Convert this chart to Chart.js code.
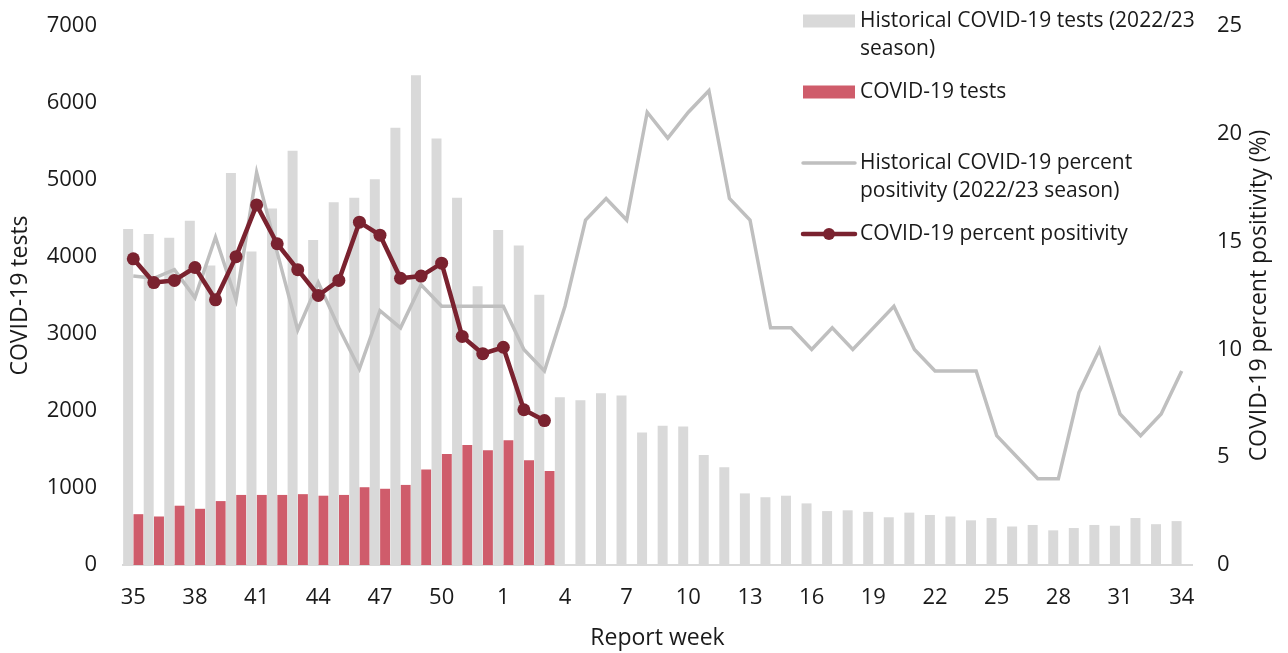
<!DOCTYPE html>
<html>
<head>
<meta charset="utf-8">
<script src="https://cdn.jsdelivr.net/npm/chart.js@4.4.1/dist/chart.umd.min.js"></script>
<style>
html,body{margin:0;padding:0;background:#fff;}
#wrap{width:1288px;height:653px;position:relative;}
</style>
</head>
<body>
<div id="wrap"><canvas id="c" width="1288" height="653"></canvas></div>
<script>
const weeks = ['35','36','37','38','39','40','41','42','43','44','45','46','47','48','49','50','51','52',
  '1','2','3','4','5','6','7','8','9','10','11','12','13','14','15','16','17','18','19','20',
  '21','22','23','24','25','26','27','28','29','30','31','32','33','34'];
const histTests = [4365,4300,4250,4470,3890,5090,4070,4630,5380,4220,4710,4770,5010,5680,6360,5540,4770,3620,
  4350,4150,3510,2180,2140,2230,2200,1720,1810,1800,1430,1270,930,880,900,800,700,710,690,620,
  680,650,630,580,610,500,520,450,480,520,510,610,530,570];
const curTests = [660,630,770,730,830,910,910,910,920,900,910,1010,990,1040,1240,1440,1560,1490,
  1620,1360,1220];
const histPos = [13.4,13.3,13.7,12.4,15.2,12.3,18.2,14.5,10.9,13.1,11.0,9.1,11.8,11.0,13.0,12.0,12.0,12.0,
  12.0,10.0,9.0,12.0,16.0,17.0,16.0,21.0,19.8,21.0,22.0,17.0,16.0,11.0,11.0,10.0,11.0,10.0,11.0,12.0,
  10.0,9.0,9.0,9.0,6.0,5.0,4.0,4.0,8.0,10.0,7.0,6.0,7.0,9.0];
const curPos = [14.2,13.1,13.2,13.8,12.3,14.3,16.7,14.9,13.7,12.5,13.2,15.9,15.3,13.3,13.4,14.0,10.6,9.8,
  10.1,7.2,6.7];
const leftTicks = [0,1000,2000,3000,4000,5000,6000,7000];
const rightTicks = [0,5,10,15,20,25];
const rightTitle = 'COVID-19 percent positivity (%)';

const FONT = "'Open Sans', sans-serif";
const TXT = '#1a1a1a';
const GREY_BAR = '#d9d9d9';
const RED_BAR = '#cf5c6b';
const GREY_LINE = '#bfbfbf';
const DARK_RED = '#7a222f';

const legendItems = [
  {type:'box', color:GREY_BAR, lines:['Historical COVID-19 tests (2022/23','season)'], y:21},
  {type:'box', color:RED_BAR, lines:['COVID-19 tests'], y:92},
  {type:'line', color:GREY_LINE, width:3.5, lines:['Historical COVID-19 percent','positivity (2022/23 season)'], y:163},
  {type:'point', color:DARK_RED, width:4.5, lines:['COVID-19 percent positivity'], y:234}
];

const legendPlugin = {
  id:'customLegend',
  afterDraw(chart){
    const ctx = chart.ctx;
    ctx.save();
    ctx.font = "21px " + FONT;
    ctx.textBaseline = 'middle';
    ctx.textAlign = 'left';
    const x0 = 803, x1 = 855, tx = 860, lh = 28.5;
    legendItems.forEach(it => {
      if (it.type === 'box') {
        ctx.fillStyle = it.color;
        ctx.fillRect(x0, it.y - 6.5, x1 - x0, 13);
      } else {
        ctx.strokeStyle = it.color;
        ctx.lineWidth = it.width;
        ctx.lineCap = 'round';
        ctx.beginPath(); ctx.moveTo(x0, it.y); ctx.lineTo(x1, it.y); ctx.stroke();
        if (it.type === 'point') {
          ctx.fillStyle = it.color;
          ctx.beginPath(); ctx.arc((x0 + x1) / 2, it.y, 6, 0, Math.PI * 2); ctx.fill();
        }
      }
      ctx.fillStyle = TXT;
      it.lines.forEach((t, i) => ctx.fillText(t, tx, it.y + i * lh));
    });
    // right axis title, reading bottom to top
    const a = chart.chartArea;
    ctx.translate(1259, (a.top + a.bottom) / 2);
    ctx.rotate(-Math.PI / 2);
    ctx.textAlign = 'center';
    ctx.font = "23px " + FONT;
    ctx.fillText(rightTitle, 0, 0);
    ctx.restore();
  }
};

new Chart(document.getElementById('c'), {
  type: 'bar',
  data: {
    labels: weeks,
    datasets: [
      {type:'line', label:'COVID-19 percent positivity', data:curPos, yAxisID:'y2', order:0,
        borderColor:DARK_RED, backgroundColor:DARK_RED, borderWidth:4.5, pointRadius:6.5,
        pointBackgroundColor:DARK_RED, pointBorderWidth:0, tension:0, spanGaps:false},
      {type:'line', label:'Historical COVID-19 percent positivity (2022/23 season)', data:histPos, yAxisID:'y2', order:1,
        borderColor:GREY_LINE, borderWidth:3.5, pointRadius:0, tension:0},
      {type:'bar', label:'Historical COVID-19 tests (2022/23 season)', data:histTests, yAxisID:'y', order:2,
        backgroundColor:GREY_BAR, categoryPercentage:1.0, barPercentage:0.97},
      {type:'bar', label:'COVID-19 tests', data:curTests, yAxisID:'y', order:3,
        backgroundColor:RED_BAR, categoryPercentage:1.0, barPercentage:0.97}
    ]
  },
  options: {
    responsive:false,
    animation:false,
    layout:{padding:{top:26,left:0,right:0,bottom:0}},
    plugins:{legend:{display:false}, tooltip:{enabled:false}},
    scales:{
      x:{
        grid:{display:false, drawTicks:false},
        border:{display:true, color:'#d9d9d9', width:2},
        ticks:{autoSkip:false, maxRotation:0, padding:20, color:TXT, font:{family:FONT, size:22},
          callback:function(v, i){ return i % 3 === 0 ? weeks[i] : ''; }},
        title:{display:true, text:'Report week', color:TXT, font:{family:FONT, size:23}, padding:{top:0,bottom:1}},
        afterFit(s){ s.height = 88; s.paddingLeft = 0; s.paddingRight = 0; }
      },
      y:{
        position:'left', min:0, max:leftTicks[leftTicks.length-1],
        afterBuildTicks(s){ s.ticks = leftTicks.map(v => ({value:v})); },
        grid:{display:false, drawTicks:false},
        border:{display:false},
        ticks:{padding:26, color:TXT, font:{family:FONT, size:22}, callback:(v) => String(v)},
        title:{display:true, text:'COVID-19 tests', color:TXT, font:{family:FONT, size:23}, padding:{top:7,bottom:0}},
        afterFit(s){ s.width = 123; s.paddingTop = 0; s.paddingBottom = 0; }
      },
      y2:{
        position:'right', min:0, max:rightTicks[rightTicks.length-1],
        afterBuildTicks(s){ s.ticks = rightTicks.map(v => ({value:v})); },
        grid:{display:false, drawTicks:false},
        border:{display:false},
        ticks:{padding:25, color:TXT, font:{family:FONT, size:22}, callback:(v) => String(v)},
        title:{display:false},
        afterFit(s){ s.width = 96; s.paddingTop = 0; s.paddingBottom = 0; }
      }
    }
  },
  plugins:[legendPlugin]
});
</script>
</body>
</html>
